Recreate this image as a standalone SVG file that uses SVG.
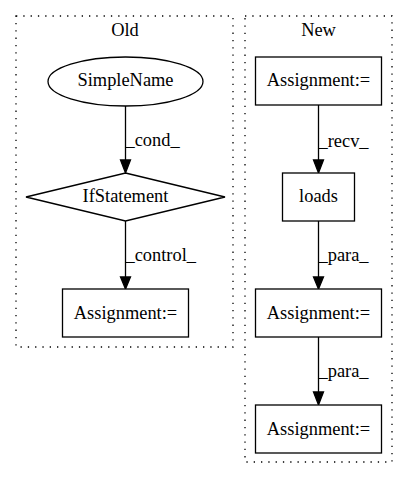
<svg xmlns="http://www.w3.org/2000/svg" width="408" height="480" viewBox="0 0 408 480" font-family="'Liberation Serif', 'Times New Roman', Times, serif" font-size="18.4">
<style>
text{font-family:'Liberation Serif','Times New Roman',Times,serif;font-size:18.4px;fill:#000;text-anchor:middle}
.lbl{text-anchor:start}
.cl{fill:none;stroke:#000;stroke-width:1.3;stroke-dasharray:1.3,6}
.n{fill:#fff;stroke:#000;stroke-width:1.3}
.e{fill:none;stroke:#000;stroke-width:1.3}
.ah{fill:#000;stroke:#000;stroke-width:1.3}
</style>
<rect width="408" height="480" fill="#fff"/>
<g id="cluster_old">
<rect class="cl" x="16" y="16" width="217" height="331"/>
<text x="125" y="36">Old</text>
</g>
<g id="cluster_new">
<rect class="cl" x="245" y="16" width="147" height="446"/>
<text x="318.5" y="36">New</text>
</g>
<g id="edges">
<path class="e" d="M125.5,106V160"/>
<polygon class="ah" points="120.5,160 130.5,160 125.5,173"/>
<text class="lbl" x="125.5" y="146">_cond_</text>
<path class="e" d="M125.5,221V277"/>
<polygon class="ah" points="120.5,277 130.5,277 125.5,289"/>
<text class="lbl" x="125.5" y="261">_control_</text>
<path class="e" d="M318.5,105V160"/>
<polygon class="ah" points="313.5,160 323.5,160 318.5,173"/>
<text class="lbl" x="318.5" y="147">_recv_</text>
<path class="e" d="M318.5,221V277"/>
<polygon class="ah" points="313.5,277 323.5,277 318.5,289"/>
<text class="lbl" x="318.5" y="261">_para_</text>
<path class="e" d="M318.5,337V392"/>
<polygon class="ah" points="313.5,392 323.5,392 318.5,405"/>
<text class="lbl" x="318.5" y="377">_para_</text>
</g>
<g id="simplename">
<ellipse class="n" cx="125.5" cy="81.5" rx="77.5" ry="24.5"/>
<text x="125.5" y="86">SimpleName</text>
</g>
<g id="ifstatement">
<polygon class="n" points="125.5,173 225,197 125.5,221 26,197"/>
<text x="125.5" y="202">IfStatement</text>
</g>
<g id="old_assignment">
<rect class="n" x="62.5" y="289" width="126" height="48"/>
<text x="125.5" y="318.5">Assignment:=</text>
</g>
<g id="new_assignment1">
<rect class="n" x="255.5" y="57" width="126" height="48"/>
<text x="318.5" y="86">Assignment:=</text>
</g>
<g id="loads">
<rect class="n" x="282.5" y="173" width="72" height="48"/>
<text x="318.5" y="202">loads</text>
</g>
<g id="new_assignment2">
<rect class="n" x="255.5" y="289" width="126" height="48"/>
<text x="318.5" y="318.5">Assignment:=</text>
</g>
<g id="new_assignment3">
<rect class="n" x="255.5" y="405" width="126" height="48"/>
<text x="318.5" y="434.5">Assignment:=</text>
</g>
</svg>
